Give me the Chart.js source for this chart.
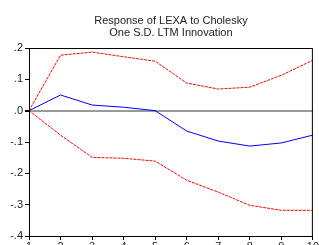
<!DOCTYPE html>
<html>
<head>
<meta charset="utf-8">
<script src="https://cdn.jsdelivr.net/npm/chart.js@4.4.1/dist/chart.umd.min.js"></script>
<style>
  html, body { margin: 0; padding: 0; background: #fff; }
  #wrap { width: 319px; height: 245px; }
</style>
</head>
<body>
<div id="wrap"><canvas id="irf"></canvas></div>
<script>
// Response of LEXA to LTM shock, periods 1..10
const periods = ['1', '2', '3', '4', '5', '6', '7', '8', '9', '10'];
const response = [0, 0.050, 0.018, 0.011, 0.000, -0.065, -0.097, -0.113, -0.103, -0.078];
const upperBand = [0, 0.177, 0.187, 0.172, 0.158, 0.088, 0.069, 0.075, 0.113, 0.161];
const lowerBand = [0, -0.078, -0.149, -0.152, -0.161, -0.222, -0.260, -0.302, -0.318, -0.318];
const titleLines = ['Response of LEXA to Cholesky', 'One S.D. LTM Innovation'];

const FONT = 'Liberation Sans, Arial, sans-serif';

// fmt .2 / .0 / -.1 like EViews
function fmtTick(v) {
  const s = (Math.round(v * 10) / 10).toFixed(1);
  return s.replace(/^(-?)0\./, '$1.');
}

// frame around the plot + centered title over the plot area
const framePlugin = {
  id: 'frame',
  afterDraw(chart) {
    const { ctx, chartArea: a } = chart;
    ctx.save();
    ctx.strokeStyle = '#000';
    ctx.lineWidth = 1;
    ctx.strokeRect(a.left + 0.5, a.top + 0.5, a.right - a.left - 1, a.bottom - a.top);
    ctx.fillStyle = '#222';
    ctx.font = '11px ' + FONT;
    ctx.textAlign = 'center';
    ctx.textBaseline = 'alphabetic';
    const cx = (a.left + a.right) / 2;
    titleLines.forEach((t, i) => ctx.fillText(t, cx, 24 + i * 11.5));
    ctx.restore();
  }
};

new Chart(document.getElementById('irf'), {
  type: 'line',
  data: {
    labels: periods,
    datasets: [
      {
        data: upperBand,
        borderColor: '#ff0000',
        borderWidth: 1,
        borderDash: [3, 1],
        pointRadius: 0,
        tension: 0,
      },
      {
        data: response,
        borderColor: '#0000ff',
        borderWidth: 1,
        pointRadius: 0,
        tension: 0,
      },
      {
        data: lowerBand,
        borderColor: '#ff0000',
        borderWidth: 1,
        borderDash: [3, 1],
        pointRadius: 0,
        tension: 0,
      },
    ],
  },
  options: {
    responsive: true,
    maintainAspectRatio: false,
    animation: false,
    layout: { padding: { top: 48, right: 3, left: 0, bottom: 0 } },
    plugins: {
      legend: { display: false },
      title: { display: false },
      tooltip: { enabled: false },
    },
    scales: {
      x: {
        offset: false,
        grid: {
          drawOnChartArea: false,
          tickColor: '#000',
          tickLength: 4,
        },
        border: { display: false },
        ticks: {
          color: '#222',
          font: { family: FONT, size: 11 },
          padding: 0,
          maxRotation: 0,
          autoSkip: false,
        },
        afterFit(scale) { scale.height = 9; },
      },
      y: {
        min: -0.4,
        max: 0.2,
        grid: {
          color: ctx => (Math.abs(ctx.tick.value) < 1e-9 ? '#999' : 'rgba(0,0,0,0)'),
          lineWidth: ctx => (Math.abs(ctx.tick.value) < 1e-9 ? 2 : 1),
          tickColor: '#000',
          tickLength: 4,
        },
        border: { display: false },
        ticks: {
          stepSize: 0.1,
          color: '#222',
          font: { family: FONT, size: 11 },
          padding: 2,
          callback: v => fmtTick(v),
        },
        afterFit(scale) { scale.width = 29; },
      },
    },
  },
  plugins: [framePlugin],
});
</script>
</body>
</html>
